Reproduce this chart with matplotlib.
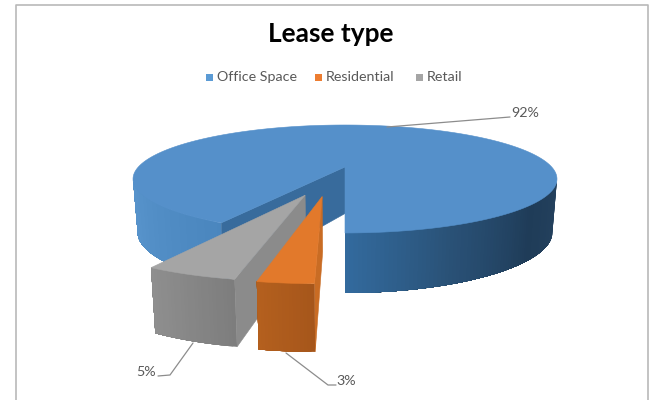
import numpy as np
import matplotlib
matplotlib.use("Agg")
import matplotlib.pyplot as plt
from matplotlib.patches import Polygon, Rectangle

categories = ["Office Space", "Residential", "Retail"]
values = [92, 3, 5]
pct_labels = ["92%", "3%", "5%"]

top_colors = ["#5590CA", "#E2792B", "#A5A5A5"]
legend_colors = ["#5B9BD5", "#ED7D31", "#A5A5A5"]
TEXT = "#595959"

W, H = 654, 400
CX, Y0 = 345.0, 167.0
A, K, P = 206.7, 51.33, 0.222
DEPTH0, DEPTH2, SHRINK = 53.5, 6.5, 0.022
offsets = [(0.0, 0.0), (-0.098, 0.51), (-0.172, 0.49)]


def proj(u, v, z=0.0):
    u, v = np.asarray(u, float), np.asarray(v, float)
    den = 1 - P * v
    x = CX + A * u / den * (1 - SHRINK * z)
    y = Y0 + K * v / den + z * (DEPTH0 + DEPTH2 * v ** 2)
    return x, y


def rim(t_deg, off=(0, 0)):
    t = np.radians(t_deg)
    return np.sin(t) + off[0], -np.cos(t) + off[1]


def poly(ax, xs, ys, color, z, lw=0.4):
    ax.add_patch(Polygon(np.column_stack([xs, ys]), closed=True, facecolor=color,
                         edgecolor=color if lw else "none", linewidth=lw, zorder=z))


def lerp(c1, c2, f):
    a = np.array(matplotlib.colors.to_rgb(c1))
    b = np.array(matplotlib.colors.to_rgb(c2))
    return tuple(a + (b - a) * f)


def ramp(stops, f):
    for (f0, c0), (f1, c1) in zip(stops[:-1], stops[1:]):
        if f <= f1:
            return lerp(c0, c1, (f - f0) / (f1 - f0))
    return stops[-1][1]


def side(ax, t0, t1, off, stops, z, n=80):
    ts = np.linspace(t0, t1, n + 1)
    # each strip runs to the far end of the side, so later strips overlap the seams
    for i in range(n):
        seg = np.linspace(ts[i], t1, max(3, 2 * (n - i)))
        u, v = rim(seg, off)
        xa, ya = proj(u, v, 0)
        xb, yb = proj(u, v, 1)
        f = (i + 0.5) / n
        poly(ax, np.r_[xa, xb[::-1]], np.r_[ya, yb[::-1]], ramp(stops, f), z, lw=0)


def radial_wall(ax, t, off, color, z, inner=1.0):
    u, v = rim(t, off)
    x1, y1 = proj(u, v, 0)
    x2, y2 = proj(u, v, 1)
    x3, y3 = proj(off[0], off[1], inner)
    x4, y4 = proj(off[0], off[1], 0)
    poly(ax, [x1, x2, x3, x4], [y1, y2, y3, y4], color, z)


def top_face(ax, t0, t1, off, color, z):
    ts = np.linspace(t0, t1, 240)
    u, v = rim(ts, off)
    x, y = proj(u, v, 0)
    xc, yc = proj(off[0], off[1], 0)
    poly(ax, np.r_[xc, x], np.r_[yc, y], color, z)


fig = plt.figure(figsize=(W / 100, H / 100), dpi=100)
plt.rcParams["font.family"] = ["Lato", "DejaVu Sans"]
ax = fig.add_axes([0, 0, 1, 1])
ax.set_xlim(0, W)
ax.set_ylim(H, 0)
ax.axis("off")

# Chart frame
ax.plot([15.5, 15.5, 647.5, 647.5], [H, 4.5, 4.5, H], color="#B9B9B9", lw=1.2, zorder=0)

# slice angles, clockwise from 12 o'clock; the first slice ends at 180 degrees
sweep = [v / sum(values) * 360 for v in values]
office_end = 180.0 + 360.0
office_start = office_end - sweep[0]
res_start, res_end = 180.0, 180.0 + sweep[1]
ret_start, ret_end = res_end, res_end + sweep[2]
silhouette = np.degrees(np.arccos(P))  # rim angle of the widest point, from the front

# Office Space
side(ax, office_start, 180 + silhouette, offsets[0],
     [(0, "#4A86BE"), (1, "#5A96CE")], 1, n=40)
side(ax, 180 - silhouette, 180, offsets[0],
     [(0, "#25425F"), (0.35, "#1F3C58"), (0.7, "#2A5278"), (1, "#336A9E")], 1)
radial_wall(ax, office_start, offsets[0], "#386B9C", 2, inner=0.87)
top_face(ax, office_start, office_end, offsets[0], top_colors[0], 3)

# Retail
radial_wall(ax, ret_start, offsets[2], "#8B8B8B", 4)
side(ax, ret_start, ret_end, offsets[2],
     [(0, "#7D7D7D"), (1, "#8F8F8F")], 5, n=24)
top_face(ax, ret_start, ret_end, offsets[2], top_colors[2], 6)

# Residential
radial_wall(ax, res_start, offsets[1], "#C96C24", 7)
side(ax, res_start, res_end, offsets[1],
     [(0, "#A6561B"), (1, "#B4601E")], 8, n=16)
top_face(ax, res_start, res_end, offsets[1], top_colors[1], 9)

# Title
ax.text(330.5, 34, "Lease type", ha="center", va="center", fontsize=18.9,
        fontweight="bold", color="black", zorder=12)

# Legend
legend_x = [205.5, 314.5, 415.5]
for name, col, lx in zip(categories, legend_colors, legend_x):
    ax.add_patch(Rectangle((lx, 73.5), 7, 7, facecolor=col, edgecolor="none", zorder=12))
    ax.text(lx + 11.5, 77, name, ha="left", va="center", fontsize=10.3,
            color=TEXT, zorder=12)

# Data labels with leaders
leaders = [
    ([387, 510], [127, 117], (525, 113)),
    ([286, 328, 336], [353, 385, 385], (346, 381)),
    ([193, 170, 158], [343, 375, 376], (146, 372)),
]
for lab, (lx, ly, pos) in zip(pct_labels, leaders):
    ax.plot(lx, ly, color="#8C8C8C", lw=0.9, zorder=11, solid_capstyle="round")
    ax.text(pos[0], pos[1], lab, ha="center", va="center", fontsize=10.3,
            color=TEXT, zorder=12)

fig.savefig("out.png", dpi=100, facecolor="white")
